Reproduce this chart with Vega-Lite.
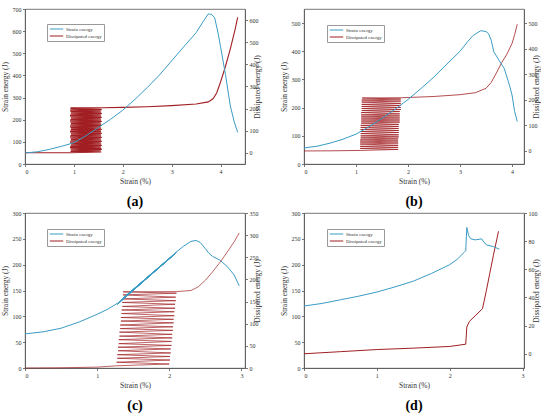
{
  "$schema": "https://vega.github.io/schema/vega-lite/v6.json",
  "padding": {"left": 0, "top": 5, "right": 1, "bottom": 0},
  "datasets": {
    "a_se": [
      {"s": 0, "e": 50}, {"s": 0.25, "e": 55}, {"s": 0.5, "e": 66}, {"s": 0.75, "e": 80},
      {"s": 1, "e": 96}, {"s": 1.25, "e": 128}, {"s": 1.5, "e": 165}, {"s": 1.75, "e": 202},
      {"s": 2, "e": 243}, {"s": 2.25, "e": 292}, {"s": 2.5, "e": 345}, {"s": 2.75, "e": 402},
      {"s": 3, "e": 466}, {"s": 3.25, "e": 530}, {"s": 3.5, "e": 593}, {"s": 3.65, "e": 645},
      {"s": 3.75, "e": 678}, {"s": 3.82, "e": 675}, {"s": 3.88, "e": 660}, {"s": 3.95, "e": 590},
      {"s": 4.0, "e": 530}, {"s": 4.1, "e": 405}, {"s": 4.2, "e": 262}, {"s": 4.28, "e": 190},
      {"s": 4.35, "e": 143}
    ],
    "a_de": [
      {"i": 0, "s": 0, "e": 0}, {"i": 1, "s": 0.5, "e": 0},
      {"i": 2, "s": 0.92, "e": 0}, {"i": 3, "s": 1.56, "e": 3}, {"i": 4, "s": 0.93, "e": 6}, {"i": 5, "s": 1.55, "e": 9},
      {"i": 6, "s": 0.94, "e": 12}, {"i": 7, "s": 1.57, "e": 15}, {"i": 8, "s": 0.93, "e": 18}, {"i": 9, "s": 1.56, "e": 21},
      {"i": 10, "s": 0.92, "e": 24}, {"i": 11, "s": 1.55, "e": 27}, {"i": 12, "s": 0.93, "e": 30}, {"i": 13, "s": 1.57, "e": 33},
      {"i": 14, "s": 0.94, "e": 36}, {"i": 15, "s": 1.56, "e": 39}, {"i": 16, "s": 0.93, "e": 42}, {"i": 17, "s": 1.55, "e": 45},
      {"i": 18, "s": 0.92, "e": 48}, {"i": 19, "s": 1.57, "e": 51}, {"i": 20, "s": 0.93, "e": 54}, {"i": 21, "s": 1.56, "e": 57},
      {"i": 22, "s": 0.94, "e": 60}, {"i": 23, "s": 1.55, "e": 63}, {"i": 24, "s": 0.93, "e": 66}, {"i": 25, "s": 1.57, "e": 69},
      {"i": 26, "s": 0.92, "e": 72}, {"i": 27, "s": 1.56, "e": 75}, {"i": 28, "s": 0.93, "e": 78}, {"i": 29, "s": 1.55, "e": 81},
      {"i": 30, "s": 0.94, "e": 84}, {"i": 31, "s": 1.57, "e": 87}, {"i": 32, "s": 0.93, "e": 90}, {"i": 33, "s": 1.56, "e": 93},
      {"i": 34, "s": 0.92, "e": 96}, {"i": 35, "s": 1.55, "e": 99}, {"i": 36, "s": 0.93, "e": 102}, {"i": 37, "s": 1.57, "e": 105},
      {"i": 38, "s": 0.94, "e": 108}, {"i": 39, "s": 1.56, "e": 111}, {"i": 40, "s": 0.93, "e": 114}, {"i": 41, "s": 1.55, "e": 117},
      {"i": 42, "s": 0.92, "e": 120}, {"i": 43, "s": 1.57, "e": 123}, {"i": 44, "s": 0.93, "e": 126}, {"i": 45, "s": 1.56, "e": 129},
      {"i": 46, "s": 0.94, "e": 132}, {"i": 47, "s": 1.55, "e": 135}, {"i": 48, "s": 0.93, "e": 138}, {"i": 49, "s": 1.57, "e": 141},
      {"i": 50, "s": 0.92, "e": 144}, {"i": 51, "s": 1.56, "e": 147}, {"i": 52, "s": 0.93, "e": 150}, {"i": 53, "s": 1.55, "e": 153},
      {"i": 54, "s": 0.94, "e": 156}, {"i": 55, "s": 1.57, "e": 159}, {"i": 56, "s": 0.93, "e": 162}, {"i": 57, "s": 1.56, "e": 165},
      {"i": 58, "s": 0.92, "e": 168}, {"i": 59, "s": 1.55, "e": 171}, {"i": 60, "s": 0.93, "e": 174}, {"i": 61, "s": 1.57, "e": 177},
      {"i": 62, "s": 0.94, "e": 180}, {"i": 63, "s": 1.56, "e": 183}, {"i": 64, "s": 0.93, "e": 186}, {"i": 65, "s": 1.55, "e": 189},
      {"i": 66, "s": 0.92, "e": 192}, {"i": 67, "s": 1.57, "e": 195}, {"i": 68, "s": 0.93, "e": 198}, {"i": 69, "s": 1.56, "e": 201},
      {"i": 70, "s": 0.93, "e": 203},
      {"i": 71, "s": 1.6, "e": 203.5}, {"i": 72, "s": 2, "e": 205}, {"i": 73, "s": 2.5, "e": 208}, {"i": 74, "s": 3, "e": 213},
      {"i": 75, "s": 3.5, "e": 220}, {"i": 76, "s": 3.75, "e": 230}, {"i": 77, "s": 3.85, "e": 245}, {"i": 78, "s": 3.92, "e": 270},
      {"i": 79, "s": 4.0, "e": 320}, {"i": 80, "s": 4.1, "e": 390}, {"i": 81, "s": 4.2, "e": 470}, {"i": 82, "s": 4.3, "e": 560},
      {"i": 83, "s": 4.35, "e": 612}
    ],
    "b_se": [
      {"s": 0, "e": 57}, {"s": 0.25, "e": 63}, {"s": 0.5, "e": 74}, {"s": 0.75, "e": 88},
      {"s": 1, "e": 106}, {"s": 1.25, "e": 132}, {"s": 1.5, "e": 162}, {"s": 1.75, "e": 194},
      {"s": 2, "e": 229}, {"s": 2.25, "e": 268}, {"s": 2.5, "e": 309}, {"s": 2.75, "e": 355},
      {"s": 3, "e": 400}, {"s": 3.15, "e": 435}, {"s": 3.25, "e": 456}, {"s": 3.4, "e": 473},
      {"s": 3.5, "e": 470}, {"s": 3.55, "e": 462}, {"s": 3.6, "e": 439}, {"s": 3.65, "e": 398},
      {"s": 3.75, "e": 368}, {"s": 3.85, "e": 339}, {"s": 3.95, "e": 280}, {"s": 4.0, "e": 245},
      {"s": 4.05, "e": 186}, {"s": 4.1, "e": 151}
    ],
    "b_de": [
      {"i": 0, "s": 0, "e": 0}, {"i": 1, "s": 0.5, "e": 0.5},
      {"i": 2, "s": 1.08, "e": 2}, {"i": 3, "s": 1.81, "e": 6}, {"i": 4, "s": 1.08, "e": 10}, {"i": 5, "s": 1.81, "e": 14},
      {"i": 6, "s": 1.08, "e": 18}, {"i": 7, "s": 1.81, "e": 22}, {"i": 8, "s": 1.08, "e": 27}, {"i": 9, "s": 1.81, "e": 31},
      {"i": 10, "s": 1.08, "e": 35}, {"i": 11, "s": 1.81, "e": 39}, {"i": 12, "s": 1.08, "e": 43}, {"i": 13, "s": 1.81, "e": 47},
      {"i": 14, "s": 1.09, "e": 51}, {"i": 15, "s": 1.82, "e": 55}, {"i": 16, "s": 1.09, "e": 59}, {"i": 17, "s": 1.82, "e": 63},
      {"i": 18, "s": 1.09, "e": 68}, {"i": 19, "s": 1.82, "e": 72}, {"i": 20, "s": 1.09, "e": 76}, {"i": 21, "s": 1.82, "e": 80},
      {"i": 22, "s": 1.09, "e": 84}, {"i": 23, "s": 1.82, "e": 88}, {"i": 24, "s": 1.09, "e": 92}, {"i": 25, "s": 1.82, "e": 96},
      {"i": 26, "s": 1.09, "e": 100}, {"i": 27, "s": 1.82, "e": 104}, {"i": 28, "s": 1.10, "e": 109}, {"i": 29, "s": 1.84, "e": 113},
      {"i": 30, "s": 1.10, "e": 117}, {"i": 31, "s": 1.84, "e": 121}, {"i": 32, "s": 1.10, "e": 125}, {"i": 33, "s": 1.84, "e": 129},
      {"i": 34, "s": 1.10, "e": 133}, {"i": 35, "s": 1.84, "e": 137}, {"i": 36, "s": 1.10, "e": 141}, {"i": 37, "s": 1.84, "e": 145},
      {"i": 38, "s": 1.10, "e": 150}, {"i": 39, "s": 1.84, "e": 154}, {"i": 40, "s": 1.11, "e": 158}, {"i": 41, "s": 1.86, "e": 162},
      {"i": 42, "s": 1.11, "e": 166}, {"i": 43, "s": 1.86, "e": 170}, {"i": 44, "s": 1.11, "e": 174}, {"i": 45, "s": 1.86, "e": 178},
      {"i": 46, "s": 1.11, "e": 182}, {"i": 47, "s": 1.86, "e": 186}, {"i": 48, "s": 1.11, "e": 191}, {"i": 49, "s": 1.86, "e": 195},
      {"i": 50, "s": 1.11, "e": 199}, {"i": 51, "s": 1.86, "e": 203}, {"i": 52, "s": 1.12, "e": 207},
      {"i": 53, "s": 1.87, "e": 208}, {"i": 54, "s": 2.0, "e": 209}, {"i": 55, "s": 2.5, "e": 213}, {"i": 56, "s": 3.0, "e": 220},
      {"i": 57, "s": 3.3, "e": 228}, {"i": 58, "s": 3.5, "e": 245}, {"i": 59, "s": 3.6, "e": 268}, {"i": 60, "s": 3.7, "e": 305},
      {"i": 61, "s": 3.8, "e": 345}, {"i": 62, "s": 3.9, "e": 378}, {"i": 63, "s": 4.0, "e": 420}, {"i": 64, "s": 4.05, "e": 455},
      {"i": 65, "s": 4.1, "e": 495}
    ],
    "c_se": [
      {"i": 0, "s": 0, "e": 66}, {"i": 1, "s": 0.25, "e": 70}, {"i": 2, "s": 0.5, "e": 77}, {"i": 3, "s": 0.75, "e": 89},
      {"i": 4, "s": 1, "e": 104}, {"i": 5, "s": 1.15, "e": 114}, {"i": 6, "s": 1.3, "e": 127}, {"i": 7, "s": 1.45, "e": 146},
      {"i": 8, "s": 2.0, "e": 212}, {"i": 9, "s": 1.28, "e": 123}, {"i": 10, "s": 2.02, "e": 214}, {"i": 11, "s": 1.3, "e": 126},
      {"i": 12, "s": 2.04, "e": 216}, {"i": 13, "s": 1.32, "e": 129}, {"i": 14, "s": 2.06, "e": 219}, {"i": 15, "s": 1.34, "e": 132},
      {"i": 16, "s": 2.08, "e": 221}, {"i": 17, "s": 1.36, "e": 135}, {"i": 18, "s": 2.1, "e": 224}, {"i": 19, "s": 1.4, "e": 140},
      {"i": 20, "s": 2.12, "e": 227}, {"i": 21, "s": 2.2, "e": 236}, {"i": 22, "s": 2.3, "e": 245}, {"i": 23, "s": 2.37, "e": 247},
      {"i": 24, "s": 2.43, "e": 243}, {"i": 25, "s": 2.5, "e": 231}, {"i": 26, "s": 2.55, "e": 222}, {"i": 27, "s": 2.6, "e": 216},
      {"i": 28, "s": 2.7, "e": 209}, {"i": 29, "s": 2.8, "e": 197}, {"i": 30, "s": 2.9, "e": 180}, {"i": 31, "s": 2.97, "e": 159}
    ],
    "c_de": [
      {"i": 0, "s": 0, "e": 0}, {"i": 1, "s": 0.5, "e": 0.5}, {"i": 2, "s": 1, "e": 2},
      {"i": 3, "s": 1.27, "e": 5}, {"i": 4, "s": 2.0, "e": 9}, {"i": 5, "s": 1.27, "e": 13}, {"i": 6, "s": 2.01, "e": 18},
      {"i": 7, "s": 1.28, "e": 22}, {"i": 8, "s": 2.01, "e": 26}, {"i": 9, "s": 1.28, "e": 30}, {"i": 10, "s": 2.02, "e": 34},
      {"i": 11, "s": 1.29, "e": 39}, {"i": 12, "s": 2.02, "e": 43}, {"i": 13, "s": 1.29, "e": 47}, {"i": 14, "s": 2.03, "e": 51},
      {"i": 15, "s": 1.30, "e": 55}, {"i": 16, "s": 2.03, "e": 60}, {"i": 17, "s": 1.30, "e": 64}, {"i": 18, "s": 2.04, "e": 68},
      {"i": 19, "s": 1.31, "e": 72}, {"i": 20, "s": 2.04, "e": 76}, {"i": 21, "s": 1.31, "e": 81}, {"i": 22, "s": 2.05, "e": 85},
      {"i": 23, "s": 1.32, "e": 89}, {"i": 24, "s": 2.05, "e": 93}, {"i": 25, "s": 1.32, "e": 97}, {"i": 26, "s": 2.06, "e": 102},
      {"i": 27, "s": 1.33, "e": 106}, {"i": 28, "s": 2.06, "e": 110}, {"i": 29, "s": 1.33, "e": 114}, {"i": 30, "s": 2.07, "e": 118},
      {"i": 31, "s": 1.34, "e": 123}, {"i": 32, "s": 2.07, "e": 127}, {"i": 33, "s": 1.34, "e": 131}, {"i": 34, "s": 2.08, "e": 135},
      {"i": 35, "s": 1.35, "e": 139}, {"i": 36, "s": 2.08, "e": 144}, {"i": 37, "s": 1.35, "e": 148}, {"i": 38, "s": 2.09, "e": 152},
      {"i": 39, "s": 1.36, "e": 156}, {"i": 40, "s": 2.09, "e": 160}, {"i": 41, "s": 1.36, "e": 165}, {"i": 42, "s": 2.10, "e": 169},
      {"i": 43, "s": 1.36, "e": 172},
      {"i": 44, "s": 2.1, "e": 172.5}, {"i": 45, "s": 2.3, "e": 175}, {"i": 46, "s": 2.4, "e": 183}, {"i": 47, "s": 2.5, "e": 198},
      {"i": 48, "s": 2.6, "e": 217}, {"i": 49, "s": 2.7, "e": 238}, {"i": 50, "s": 2.8, "e": 261}, {"i": 51, "s": 2.9, "e": 285},
      {"i": 52, "s": 2.97, "e": 305}
    ],
    "d_se": [
      {"s": 0, "e": 120}, {"s": 0.25, "e": 125}, {"s": 0.5, "e": 132}, {"s": 0.75, "e": 139},
      {"s": 1, "e": 147}, {"s": 1.25, "e": 157}, {"s": 1.5, "e": 168}, {"s": 1.75, "e": 183},
      {"s": 2, "e": 200}, {"s": 2.1, "e": 210}, {"s": 2.2, "e": 224}, {"s": 2.22, "e": 227},
      {"s": 2.235, "e": 272}, {"s": 2.26, "e": 256}, {"s": 2.29, "e": 250}, {"s": 2.35, "e": 248},
      {"s": 2.44, "e": 250}, {"s": 2.47, "e": 243}, {"s": 2.51, "e": 238}, {"s": 2.6, "e": 235},
      {"s": 2.68, "e": 230}
    ],
    "d_de": [
      {"s": 0, "e": 0}, {"s": 0.5, "e": 1.5}, {"s": 1, "e": 3}, {"s": 1.5, "e": 4},
      {"s": 2, "e": 5.2}, {"s": 2.22, "e": 6.8}, {"s": 2.235, "e": 19}, {"s": 2.27, "e": 23},
      {"s": 2.35, "e": 27}, {"s": 2.45, "e": 32}, {"s": 2.5, "e": 44}, {"s": 2.55, "e": 57},
      {"s": 2.6, "e": 70}, {"s": 2.67, "e": 87}
    ]
  },
  "vconcat": [
    {
      "hconcat": [
        {
          "width": 220, "height": 155,
          "title": "(a)",
          "layer": [
            {
              "data": {"name": "a_de"},
              "mark": {"type": "line", "strokeWidth": 1.1},
              "encoding": {
                "x": {"field": "s", "type": "quantitative", "scale": {"domain": [0, 4.5], "nice": false}, "axis": {"values": [0, 1, 2, 3, 4], "title": "Strain (%)"}},
                "y": {"field": "e", "type": "quantitative", "scale": {"domain": [-51, 650], "nice": false, "zero": false}, "axis": {"orient": "right", "values": [0, 100, 200, 300, 400, 500, 600], "title": "Dissipated energy (J)", "titleAngle": 270}},
                "order": {"field": "i", "type": "quantitative"},
                "color": {"datum": "Dissipated energy", "scale": {"domain": ["Strain energy", "Dissipated energy"], "range": ["#3a9cc4", "#a11f23"]}, "legend": {"orient": "none", "legendX": 22, "legendY": 15}}
              }
            },
            {
              "data": {"name": "a_se"},
              "mark": {"type": "line", "strokeWidth": 1},
              "encoding": {
                "x": {"field": "s", "type": "quantitative", "scale": {"domain": [0, 4.5], "nice": false}, "axis": {"values": [0, 1, 2, 3, 4], "title": "Strain (%)"}},
                "y": {"field": "e", "type": "quantitative", "scale": {"domain": [0, 700], "nice": false}, "axis": {"orient": "left", "values": [0, 100, 200, 300, 400, 500, 600, 700], "title": "Strain energy (J)"}},
                "color": {"datum": "Strain energy", "scale": {"domain": ["Strain energy", "Dissipated energy"], "range": ["#3a9cc4", "#a11f23"]}, "legend": {"orient": "none", "legendX": 22, "legendY": 15}}
              }
            }
          ],
          "resolve": {"scale": {"y": "independent"}}
        },
        {
          "width": 220, "height": 155,
          "title": "(b)",
          "layer": [
            {
              "data": {"name": "b_de"},
              "mark": {"type": "line", "strokeWidth": 0.8},
              "encoding": {
                "x": {"field": "s", "type": "quantitative", "scale": {"domain": [0, 4.23], "nice": false}, "axis": {"values": [0, 1, 2, 3, 4], "title": "Strain (%)"}},
                "y": {"field": "e", "type": "quantitative", "scale": {"domain": [-51, 555], "nice": false, "zero": false}, "axis": {"orient": "right", "values": [0, 100, 200, 300, 400, 500], "title": "Dissipated energy (J)", "titleAngle": 270}},
                "order": {"field": "i", "type": "quantitative"},
                "color": {"datum": "Dissipated energy", "scale": {"domain": ["Strain energy", "Dissipated energy"], "range": ["#3a9cc4", "#a11f23"]}, "legend": {"orient": "none", "legendX": 23, "legendY": 16}}
              }
            },
            {
              "data": {"name": "b_se"},
              "mark": {"type": "line", "strokeWidth": 1},
              "encoding": {
                "x": {"field": "s", "type": "quantitative", "scale": {"domain": [0, 4.23], "nice": false}, "axis": {"values": [0, 1, 2, 3, 4], "title": "Strain (%)"}},
                "y": {"field": "e", "type": "quantitative", "scale": {"domain": [0, 550], "nice": false}, "axis": {"orient": "left", "values": [0, 100, 200, 300, 400, 500], "title": "Strain energy (J)"}},
                "color": {"datum": "Strain energy", "scale": {"domain": ["Strain energy", "Dissipated energy"], "range": ["#3a9cc4", "#a11f23"]}, "legend": {"orient": "none", "legendX": 23, "legendY": 16}}
              }
            }
          ],
          "resolve": {"scale": {"y": "independent"}}
        }
      ],
      "spacing": 18,
      "resolve": {"scale": {"color": "independent"}}
    },
    {
      "hconcat": [
        {
          "width": 220, "height": 155,
          "title": "(c)",
          "layer": [
            {
              "data": {"name": "c_de"},
              "mark": {"type": "line", "strokeWidth": 0.7},
              "encoding": {
                "x": {"field": "s", "type": "quantitative", "scale": {"domain": [0, 3.05], "nice": false}, "axis": {"values": [0, 1, 2, 3], "title": "Strain (%)"}},
                "y": {"field": "e", "type": "quantitative", "scale": {"domain": [0, 350], "nice": false}, "axis": {"orient": "right", "values": [0, 50, 100, 150, 200, 250, 300, 350], "title": "Dissipated energy (J)", "titleAngle": 270}},
                "order": {"field": "i", "type": "quantitative"},
                "color": {"datum": "Dissipated energy", "scale": {"domain": ["Strain energy", "Dissipated energy"], "range": ["#3a9cc4", "#a11f23"]}, "legend": {"orient": "none", "legendX": 22, "legendY": 16}}
              }
            },
            {
              "data": {"name": "c_se"},
              "mark": {"type": "line", "strokeWidth": 1},
              "encoding": {
                "x": {"field": "s", "type": "quantitative", "scale": {"domain": [0, 3.05], "nice": false}, "axis": {"values": [0, 1, 2, 3], "title": "Strain (%)"}},
                "y": {"field": "e", "type": "quantitative", "scale": {"domain": [0, 300], "nice": false}, "axis": {"orient": "left", "values": [0, 50, 100, 150, 200, 250, 300], "title": "Strain energy (J)"}},
                "order": {"field": "i", "type": "quantitative"},
                "color": {"datum": "Strain energy", "scale": {"domain": ["Strain energy", "Dissipated energy"], "range": ["#3a9cc4", "#a11f23"]}, "legend": {"orient": "none", "legendX": 22, "legendY": 16}}
              }
            }
          ],
          "resolve": {"scale": {"y": "independent"}}
        },
        {
          "width": 220, "height": 155,
          "title": "(d)",
          "layer": [
            {
              "data": {"name": "d_de"},
              "mark": {"type": "line", "strokeWidth": 1},
              "encoding": {
                "x": {"field": "s", "type": "quantitative", "scale": {"domain": [0, 3.02], "nice": false}, "axis": {"values": [0, 1, 2, 3], "title": "Strain (%)"}},
                "y": {"field": "e", "type": "quantitative", "scale": {"domain": [-10.1, 100], "nice": false, "zero": false}, "axis": {"orient": "right", "values": [0, 20, 40, 60, 80, 100], "title": "Dissipated energy (J)", "titleAngle": 270}},
                "color": {"datum": "Dissipated energy", "scale": {"domain": ["Strain energy", "Dissipated energy"], "range": ["#3a9cc4", "#a11f23"]}, "legend": {"orient": "none", "legendX": 23, "legendY": 16}}
              }
            },
            {
              "data": {"name": "d_se"},
              "mark": {"type": "line", "strokeWidth": 1},
              "encoding": {
                "x": {"field": "s", "type": "quantitative", "scale": {"domain": [0, 3.02], "nice": false}, "axis": {"values": [0, 1, 2, 3], "title": "Strain (%)"}},
                "y": {"field": "e", "type": "quantitative", "scale": {"domain": [0, 300], "nice": false}, "axis": {"orient": "left", "values": [0, 50, 100, 150, 200, 250, 300], "title": "Strain energy (J)"}},
                "color": {"datum": "Strain energy", "scale": {"domain": ["Strain energy", "Dissipated energy"], "range": ["#3a9cc4", "#a11f23"]}, "legend": {"orient": "none", "legendX": 23, "legendY": 16}}
              }
            }
          ],
          "resolve": {"scale": {"y": "independent"}}
        }
      ],
      "spacing": 18,
      "resolve": {"scale": {"color": "independent"}}
    }
  ],
  "spacing": 0,
  "resolve": {"scale": {"color": "independent"}},
  "config": {
    "font": "Liberation Serif",
    "view": {"stroke": "#555", "strokeWidth": 0.8},
    "axis": {
      "grid": false,
      "labelFont": "Liberation Serif", "titleFont": "Liberation Serif",
      "labelFontSize": 6, "titleFontSize": 7.5, "titleFontWeight": "normal",
      "labelColor": "#333", "titleColor": "#333",
      "domainColor": "#555", "tickColor": "#555", "domainWidth": 0.8, "tickWidth": 0.8,
      "tickSize": 2.5, "labelPadding": 1.5, "titlePadding": 3
    },
    "legend": {
      "title": null, "symbolType": "stroke", "symbolSize": 180, "symbolStrokeWidth": 1.2,
      "labelFont": "Liberation Serif", "labelFontSize": 5, "labelColor": "#333", "labelOffset": 2,
      "strokeColor": "#999", "fillColor": "white", "padding": 2, "clipHeight": 6, "rowPadding": 1
    },
    "title": {"orient": "bottom", "font": "Liberation Serif", "fontSize": 14, "fontWeight": "bold", "color": "#000", "offset": 10}
  }
}
